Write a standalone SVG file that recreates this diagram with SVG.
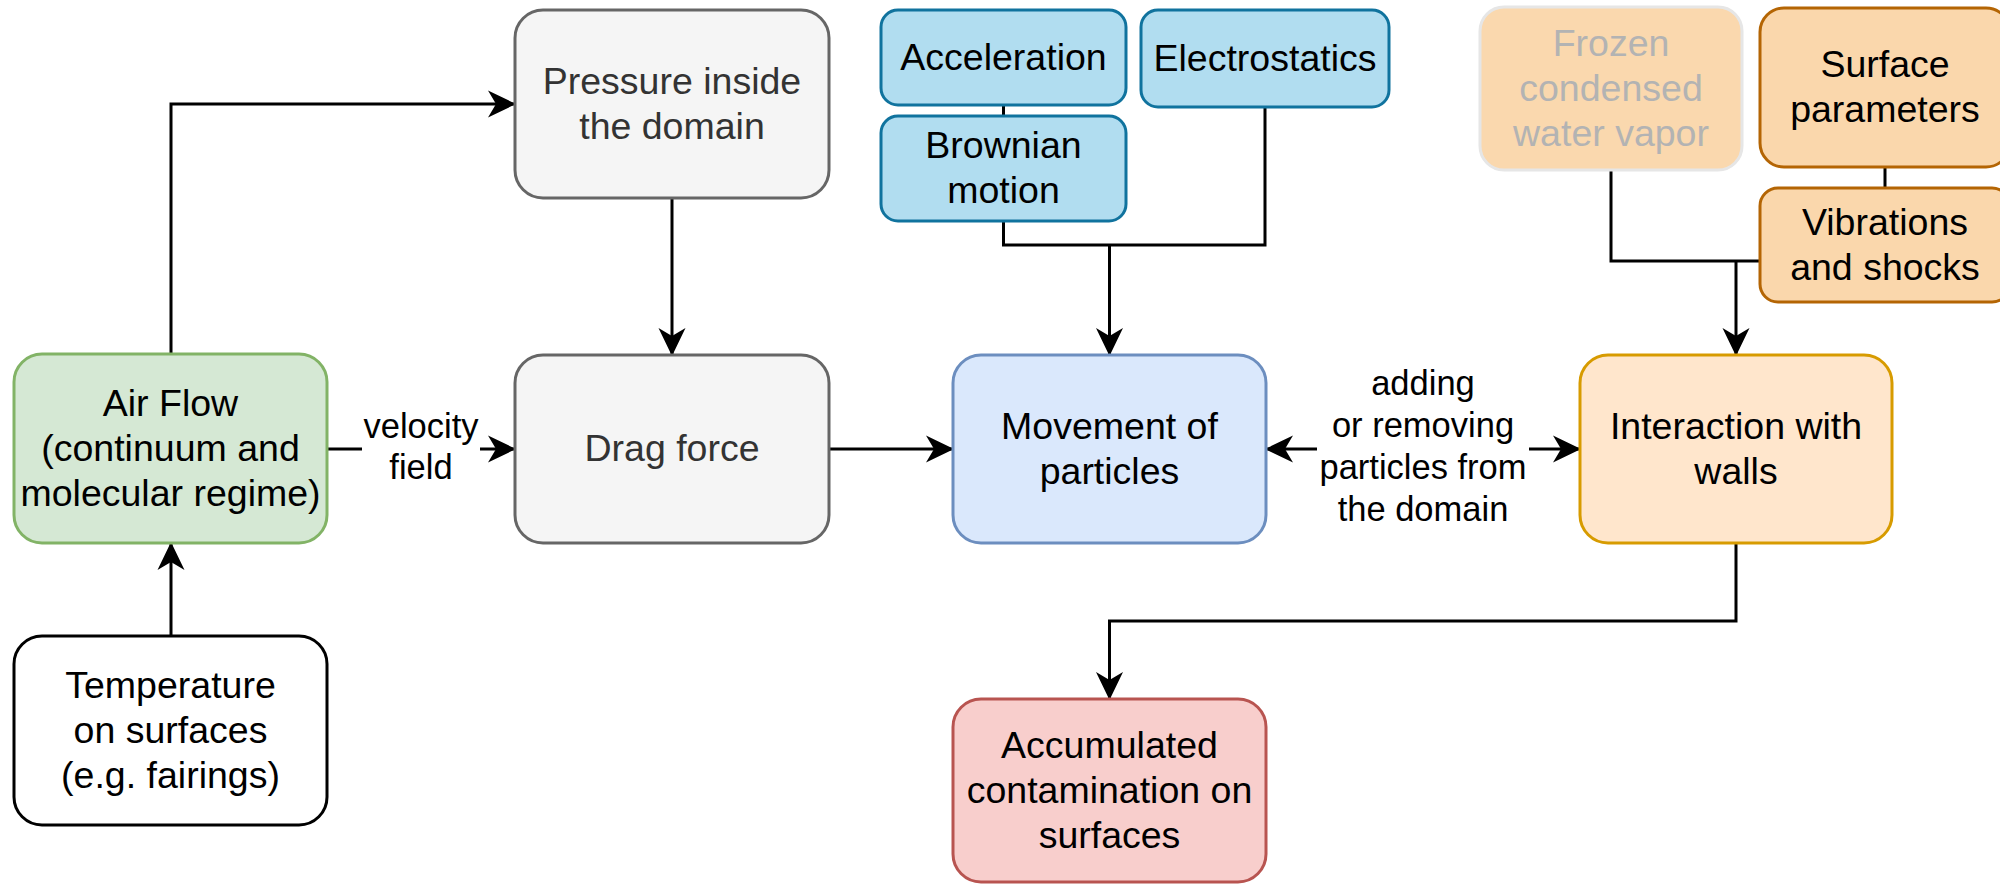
<svg xmlns="http://www.w3.org/2000/svg" width="2000" height="884" viewBox="0 0 2000 884">
<defs>
<marker id="arr" markerUnits="userSpaceOnUse" markerWidth="28" markerHeight="28" viewBox="0 0 28 28" refX="27" refY="14" orient="auto-start-reverse">
<path d="M0,0.5 L28,14 L0,27.5 L8,14 Z" fill="#000"/>
</marker>
<style>
text{font-family:"Liberation Sans",Arial,Helvetica,sans-serif;font-size:37.5px;text-anchor:middle;fill:#000}
.lbl{font-size:34.5px}
.box{stroke-width:3}
.gray{fill:#f5f5f5;stroke:#666666}
.grayt{fill:#333333}
.green{fill:#d5e8d4;stroke:#82b366}
.blue{fill:#b1ddf0;stroke:#10739e}
.lblue{fill:#dae8fc;stroke:#6c8ebf}
.orange{fill:#ffe6cc;stroke:#d79b00}
.dorange{fill:#fad7ac;stroke:#b46504}
.faded{fill:#fad8ae;stroke:#e6e6e6}
.fadedt{fill:#b3b3b3}
.red{fill:#f8cecc;stroke:#b85450}
.white{fill:#ffffff;stroke:#000000}
.conn path{fill:none;stroke:#000;stroke-width:3}
</style>
</defs>
<rect width="2000" height="884" fill="#ffffff"/>

<g id="connectors" class="conn">
<path d="M171,354 V104 H515" marker-end="url(#arr)"/>
<path d="M672,198 V355" marker-end="url(#arr)"/>
<path d="M327,449 H515" marker-end="url(#arr)"/>
<path d="M829,449 H953" marker-end="url(#arr)"/>
<path d="M1003.5,105 V116"/>
<path d="M1003.5,221 V245 H1265 V107"/>
<path d="M1109.5,245 V355" marker-end="url(#arr)"/>
<path d="M1611,170 V261 H1760"/>
<path d="M1736,261 V355" marker-end="url(#arr)"/>
<path d="M1885,167 V188"/>
<path d="M1266,449 H1580" marker-start="url(#arr)" marker-end="url(#arr)"/>
<path d="M1736,543 V621 H1109.5 V699" marker-end="url(#arr)"/>
<path d="M171,636 V543" marker-end="url(#arr)"/>
</g>

<g id="label-velocity">
<rect x="362" y="408" width="118" height="82" fill="#ffffff"/>
<text class="lbl" x="421" y="438">velocity</text>
<text class="lbl" x="421" y="479">field</text>
</g>
<g id="label-adding">
<rect x="1317" y="364" width="212" height="170" fill="#ffffff"/>
<text class="lbl" x="1423" y="395">adding</text>
<text class="lbl" x="1423" y="437">or removing</text>
<text class="lbl" x="1423" y="479">particles from</text>
<text class="lbl" x="1423" y="521">the domain</text>
</g>

<g id="pressure">
<rect class="box gray" x="515" y="10" width="314" height="188" rx="28"/>
<text class="grayt" x="672" y="93.5">Pressure inside</text>
<text class="grayt" x="672" y="139">the domain</text>
</g>
<g id="drag">
<rect class="box gray" x="515" y="355" width="314" height="188" rx="28"/>
<text class="grayt" x="672" y="461">Drag force</text>
</g>
<g id="airflow">
<rect class="box green" x="14" y="354" width="313" height="189" rx="28"/>
<text x="170.5" y="415.5">Air Flow</text>
<text x="170.5" y="460.5">(continuum and</text>
<text x="170.5" y="505.5">molecular regime)</text>
</g>
<g id="temperature">
<rect class="box white" x="14" y="636" width="313" height="189" rx="28"/>
<text x="170.5" y="697.5">Temperature</text>
<text x="170.5" y="742.5">on surfaces</text>
<text x="170.5" y="787.5">(e.g. fairings)</text>
</g>
<g id="acceleration">
<rect class="box blue" x="881" y="10" width="245" height="95" rx="17"/>
<text x="1003.5" y="69.5">Acceleration</text>
</g>
<g id="brownian">
<rect class="box blue" x="881" y="116" width="245" height="105" rx="17"/>
<text x="1003.5" y="158">Brownian</text>
<text x="1003.5" y="203">motion</text>
</g>
<g id="electrostatics">
<rect class="box blue" x="1141" y="10" width="248" height="97" rx="17"/>
<text x="1265" y="70.5">Electrostatics</text>
</g>
<g id="movement">
<rect class="box lblue" x="953" y="355" width="313" height="188" rx="28"/>
<text x="1109.5" y="438.5">Movement of</text>
<text x="1109.5" y="483.5">particles</text>
</g>
<g id="interaction">
<rect class="box orange" x="1580" y="355" width="312" height="188" rx="28"/>
<text x="1736" y="438.5">Interaction with</text>
<text x="1736" y="483.5">walls</text>
</g>
<g id="accumulated">
<rect class="box red" x="953" y="699" width="313" height="183" rx="28"/>
<text x="1109.5" y="757.5">Accumulated</text>
<text x="1109.5" y="802.5">contamination on</text>
<text x="1109.5" y="847.5">surfaces</text>
</g>
<g id="frozen">
<rect class="box faded" x="1480" y="7" width="262" height="163" rx="24"/>
<text class="fadedt" x="1611" y="55.5">Frozen</text>
<text class="fadedt" x="1611" y="100.5">condensed</text>
<text class="fadedt" x="1611" y="145.5">water vapor</text>
</g>
<g id="surface">
<rect class="box dorange" x="1760" y="8" width="250" height="159" rx="24"/>
<text x="1885" y="77">Surface</text>
<text x="1885" y="122">parameters</text>
</g>
<g id="vibrations">
<rect class="box dorange" x="1760" y="188" width="250" height="114" rx="18"/>
<text x="1885" y="234.5">Vibrations</text>
<text x="1885" y="279.5">and shocks</text>
</g>
</svg>
